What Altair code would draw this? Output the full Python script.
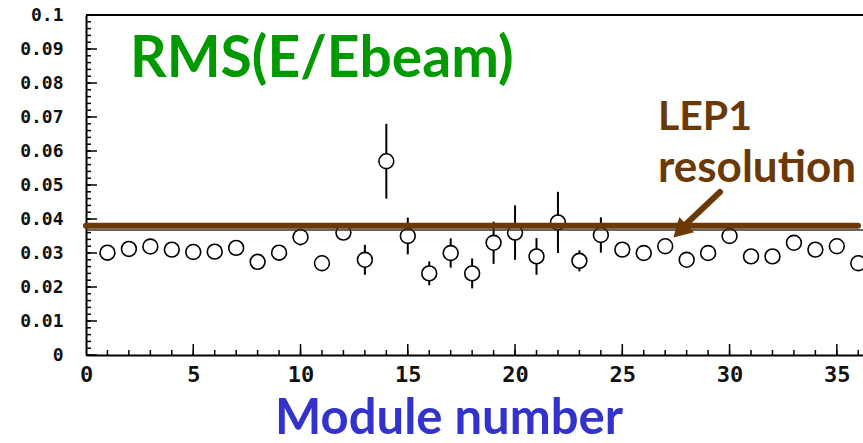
import altair as alt
import pandas as pd

modules = list(range(1, 37))
rms = [0.0301, 0.0312, 0.0319, 0.0310, 0.0303, 0.0304, 0.0315, 0.0274, 0.0301, 0.0347,
       0.0270, 0.0360, 0.0280, 0.0570, 0.0350, 0.0240, 0.0300, 0.0240, 0.0330, 0.0360,
       0.0290, 0.0390, 0.0277, 0.0353, 0.0310, 0.0300, 0.0320, 0.0280, 0.0300, 0.0350,
       0.0290, 0.0290, 0.0330, 0.0310, 0.0320, 0.0270]
err = [0.002, 0.002, 0.002, 0.002, 0.002, 0.002, 0.002, 0.002, 0.002, 0.0025,
       0.002, 0.002, 0.0044, 0.011, 0.0054, 0.0035, 0.0043, 0.0044, 0.0062, 0.008,
       0.0054, 0.009, 0.0031, 0.0052, 0.002, 0.002, 0.002, 0.002, 0.002, 0.002,
       0.002, 0.002, 0.002, 0.002, 0.002, 0.002]
lep1_resolution = 0.038
ref_line = 0.0368
y_major = [0, 0.01, 0.02, 0.03, 0.04, 0.05, 0.06, 0.07, 0.08, 0.09, 0.1]
y_minor = [round(i * 0.002, 3) for i in range(51)]
x_major = [0, 5, 10, 15, 20, 25, 30, 35]
x_minor = list(range(0, 37))

W, H = 777, 340
BROWN = "#6b3906"

df = pd.DataFrame({"m": modules, "rms": rms, "err": err})
df["lo"] = df["rms"] - df["err"]
df["hi"] = df["rms"] + df["err"]

xs = alt.Scale(domain=[0, 36.22], nice=False, zero=False)
ys = alt.Scale(domain=[0, 0.1], nice=False)

xaxis = alt.Axis(values=x_major, format="d", tickSize=0, labelPadding=9,
                 labelFont="DejaVu Sans Mono", labelFontSize=22, labelColor="#111111",
                 labelFontWeight="bold",
                 labelOverlap=False, labelFlush=False,
                 domainColor="black", domainWidth=2, grid=False, title=None)
yaxis = alt.Axis(values=y_major, format="~g", tickSize=0, labelPadding=23,
                 labelFont="DejaVu Sans Mono", labelFontSize=18, labelColor="#111111",
                 labelFontWeight="bold",
                 labelOverlap=False, labelFlush=False,
                 domainColor="black", domainWidth=2, grid=False, title=None)

def X(f):
    return alt.X(f, scale=xs, axis=xaxis)

def Y(f):
    return alt.Y(f, scale=ys, axis=yaxis)

base = alt.Chart(df)
bars = base.mark_rule(color="black", strokeWidth=2, clip=True).encode(
    x=X("m:Q"), y=Y("lo:Q"), y2="hi:Q",
)
pts = base.mark_point(shape="circle", filled=True, fill="white", stroke="black",
                      strokeWidth=1.6, size=220, opacity=1, clip=True).encode(
    x=X("m:Q"), y=Y("rms:Q"),
)

ymaj = alt.Chart(pd.DataFrame({"v": y_major})).mark_rule(color="black", strokeWidth=1.5).encode(
    y=Y("v:Q"), x=alt.value(0), x2=alt.value(11))
ymin = alt.Chart(pd.DataFrame({"v": y_minor})).mark_rule(color="black", strokeWidth=1.5).encode(
    y=Y("v:Q"), x=alt.value(0), x2=alt.value(5))
xmaj = alt.Chart(pd.DataFrame({"v": x_major})).mark_rule(color="black", strokeWidth=1.5, clip=True).encode(
    x=X("v:Q"), y=alt.value(H), y2=alt.value(H - 11))
xmin = alt.Chart(pd.DataFrame({"v": x_minor})).mark_rule(color="black", strokeWidth=1.5, clip=True).encode(
    x=X("v:Q"), y=alt.value(H), y2=alt.value(H - 5))

top = alt.Chart(pd.DataFrame({"a": [0]})).mark_rule(color="black", strokeWidth=2).encode(
    x=alt.value(0), x2=alt.value(W), y=alt.value(0))

thin = alt.Chart(pd.DataFrame({"v": [ref_line]})).mark_rule(color="#333333", strokeWidth=1.5).encode(
    y=Y("v:Q"), x=alt.value(0), x2=alt.value(W))
lep = alt.Chart(pd.DataFrame({"v": [lep1_resolution]})).mark_rule(
    color=BROWN, strokeWidth=6, strokeCap="round").encode(
    y=Y("v:Q"), x=alt.value(0), x2=alt.value(W - 5))

ann = pd.DataFrame({"a": [0]})
def txt(text, x, y, color, size, align="left"):
    return alt.Chart(ann).mark_text(text=text, font="Lato", fontWeight="bold", fontSize=size,
                                    color=color, align=align, baseline="alphabetic").encode(
        x=alt.value(x), y=alt.value(y))

t1 = txt("RMS(E/Ebeam)", 44, 62, "#009900", 57)
t2 = txt("LEP1", 572, 115, BROWN, 41)
t3 = txt("resolution", 572, 167, BROWN, 44)
t4 = txt("Module number", 363, 419, "#3333cc", 49, align="center")

shaft = alt.Chart(ann).mark_rule(color=BROWN, strokeWidth=6, strokeCap="round").encode(
    x=alt.value(634), y=alt.value(177), x2=alt.value(598), y2=alt.value(211))
head = alt.Chart(ann).mark_point(shape="triangle-up", filled=True, color=BROWN, opacity=1,
                                 size=450, angle=226).encode(
    x=alt.value(594), y=alt.value(216))

chart = alt.layer(
    bars, ymin, ymaj, xmin, xmaj, top, pts, thin, lep, shaft, head, t1, t2, t3, t4
).properties(
    width=W, height=H,
    autosize=alt.AutoSizeParams(type="none"),
    padding={"left": 86, "top": 15, "right": 0, "bottom": 88},
    background="white",
).configure_view(stroke=None)

chart.save("out.html", embed_options={"renderer": "svg", "actions": False})
